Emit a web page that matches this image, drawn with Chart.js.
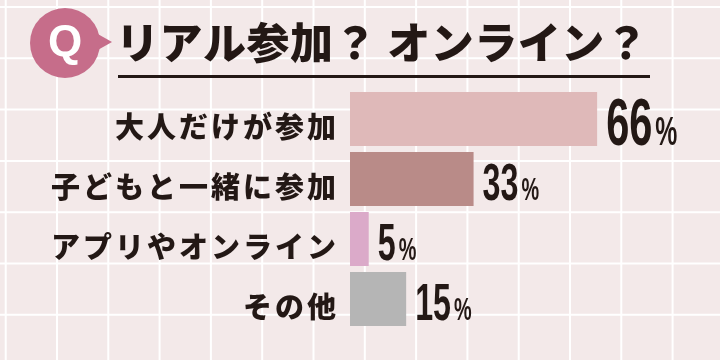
<!DOCTYPE html>
<html>
<head>
<meta charset="utf-8">
<script src="https://cdn.jsdelivr.net/npm/chart.js@4"></script>
<style>
  body { margin: 0; background: #f3e9e9; }
  canvas { display: block; }
</style>
</head>
<body>
<canvas id="chart" width="720" height="360"></canvas>
<script>
// Data
const categories = ['大人だけが参加', '子どもと一緒に参加', 'アプリやオンライン', 'その他'];
const values = [66, 33, 5, 15];
const barColors = ['#dfb9b9', '#b98b88', '#dbaac9', '#b5b5b5'];
const titleText = 'リアル参加？ オンライン？';

const ink = '#231815';
const jpFont = '"Noto Sans CJK JP", "Noto Sans", sans-serif';

// Background: pale pink with a white square grid
const backgroundGrid = {
  id: 'backgroundGrid',
  beforeUpdate(chart) {
    chart.ctx.letterSpacing = '3px';
  },
  beforeDraw(chart) {
    const ctx = chart.ctx;
    ctx.save();
    ctx.fillStyle = '#f3e9e9';
    ctx.fillRect(0, 0, chart.width, chart.height);
    ctx.strokeStyle = '#ffffff';
    ctx.lineWidth = 2;
    ctx.beginPath();
    for (let x = 5.7; x < chart.width; x += 51.3) {
      ctx.moveTo(x, 0);
      ctx.lineTo(x, chart.height);
    }
    for (let y = 7; y < chart.height; y += 51.3) {
      ctx.moveTo(0, y);
      ctx.lineTo(chart.width, y);
    }
    ctx.stroke();
    ctx.restore();
    ctx.letterSpacing = '3px';
  }
};

// Q badge, title and underline
const header = {
  id: 'header',
  afterDraw(chart) {
    const ctx = chart.ctx;
    ctx.save();
    ctx.letterSpacing = '0px';

    // speech bubble
    ctx.fillStyle = '#c66d8a';
    ctx.beginPath();
    ctx.arc(65, 43, 35, 0, Math.PI * 2);
    ctx.fill();
    ctx.beginPath();
    ctx.moveTo(96, 33);
    ctx.lineTo(112, 42);
    ctx.lineTo(96, 51);
    ctx.closePath();
    ctx.fill();

    ctx.fillStyle = '#ffffff';
    ctx.font = 'bold 44px "Liberation Sans", Arial, sans-serif';
    ctx.textAlign = 'center';
    ctx.textBaseline = 'middle';
    ctx.fillText('Q', 65, 44);

    // title
    ctx.fillStyle = ink;
    ctx.font = '900 43px ' + jpFont;
    ctx.textAlign = 'left';
    ctx.letterSpacing = '0.5px';
    ctx.fillText(titleText, 116, 43);

    // underline
    ctx.fillRect(118, 75, 532, 3);
    ctx.restore();
  }
};

// Condensed percentage labels at the end of every bar
const valueLabels = {
  id: 'valueLabels',
  afterDatasetsDraw(chart) {
    const ctx = chart.ctx;
    const meta = chart.getDatasetMeta(0);
    const top = Math.max(...values);
    ctx.save();
    ctx.letterSpacing = '0px';
    ctx.fillStyle = ink;
    ctx.textBaseline = 'alphabetic';
    ctx.textAlign = 'left';
    const squeeze = 0.62;
    meta.data.forEach((bar, i) => {
      const big = values[i] === top;
      const numSize = big ? 67 : 52;
      const pctSize = big ? 40 : 32;
      const capH = numSize * 0.716;
      const baseY = bar.y + capH / 2 + 2;
      let x = bar.x + 9;

      ctx.save();
      ctx.translate(x, baseY);
      ctx.scale(squeeze, 1);
      ctx.font = 'bold ' + numSize + 'px "Liberation Sans", Arial, sans-serif';
      const numText = String(values[i]);
      ctx.fillText(numText, 0, 0);
      const w = ctx.measureText(numText).width * squeeze;
      ctx.restore();

      ctx.save();
      ctx.translate(x + w + 3, baseY);
      ctx.scale(squeeze, 1);
      ctx.font = 'bold ' + pctSize + 'px "Liberation Sans", Arial, sans-serif';
      ctx.fillText('%', 0, 0);
      ctx.restore();
    });
    ctx.restore();
  }
};

new Chart(document.getElementById('chart'), {
  type: 'bar',
  data: {
    labels: categories,
    datasets: [{
      data: values,
      backgroundColor: barColors,
      borderWidth: 0,
      barPercentage: 0.9,
      categoryPercentage: 1
    }]
  },
  options: {
    indexAxis: 'y',
    responsive: false,
    animation: false,
    layout: {
      padding: { top: 89, bottom: 31, left: 0, right: 33 }
    },
    plugins: {
      legend: { display: false },
      tooltip: { enabled: false },
      title: { display: false }
    },
    scales: {
      x: {
        display: false,
        min: 0,
        max: 90
      },
      y: {
        grid: { display: false, drawTicks: false },
        border: { display: false },
        afterFit(scale) {
          scale.width = 350;
        },
        ticks: {
          color: ink,
          padding: 11,
          labelOffset: 8,
          font: { family: jpFont, size: 29, weight: 900 }
        }
      }
    }
  },
  plugins: [backgroundGrid, header, valueLabels]
});
</script>
</body>
</html>
